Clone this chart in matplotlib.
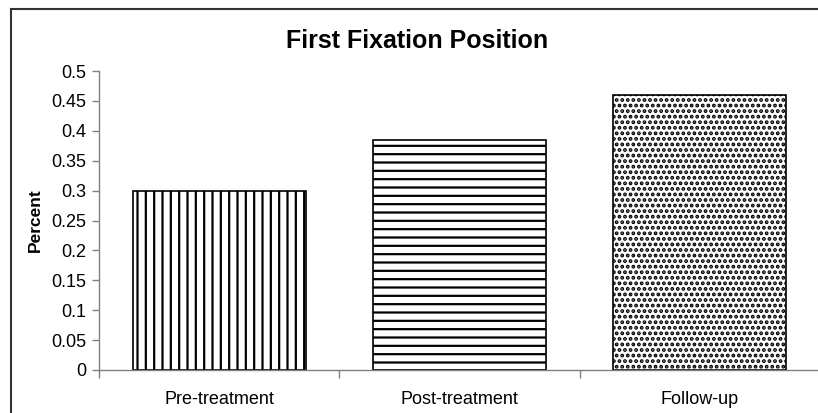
import matplotlib
matplotlib.use("Agg")
import matplotlib.pyplot as plt
from matplotlib.patches import Rectangle

plt.rcParams['font.family'] = ['Liberation Sans', 'DejaVu Sans']

categories = ["Pre-treatment", "Post-treatment", "Follow-up"]
values = [0.30, 0.385, 0.46]
hatches = ["||", "--", "..."]
hatch_widths = [1.6, 1.6, 1.9]
yticks = [0, 0.05, 0.1, 0.15, 0.2, 0.25, 0.3, 0.35, 0.4, 0.45, 0.5]
ytick_labels = ["0", "0.05", "0.1", "0.15", "0.2", "0.25", "0.3", "0.35", "0.4", "0.45", "0.5"]

W, H = 818, 413
fig = plt.figure(figsize=(W / 100, H / 100), dpi=100)
ax = fig.add_axes([99 / W, 1 - 370 / H, 721 / W, (370 - 71) / H])

x = list(range(len(categories)))
for xi, v, h, hw in zip(x, values, hatches, hatch_widths):
    with plt.rc_context({'hatch.linewidth': hw}):
        bars = ax.bar(xi, v, width=0.72, color="white", edgecolor="black",
                      linewidth=1.2, hatch=h)
        for b in bars:
            if hasattr(b, "set_hatch_linewidth"):
                b.set_hatch_linewidth(hw)

ax.set_xlim(-0.5, len(categories) - 0.5)
ax.set_ylim(0, 0.5)
ax.set_yticks(yticks)
ax.set_yticklabels(ytick_labels, fontsize=13)

# category separators as ticks, labels at the category centres
ax.set_xticks([i - 0.5 for i in range(len(categories) + 1)])
ax.set_xticklabels([])
ax.set_xticks(x, minor=True)
ax.set_xticklabels(categories, minor=True, fontsize=13)
ax.tick_params(axis="x", which="minor", length=0, pad=15)
ax.tick_params(axis="x", which="major", length=6, width=1, color="#808080", direction="out")
ax.tick_params(axis="y", length=5, width=1, color="#808080", direction="out", pad=4)

for s in ["top", "right"]:
    ax.spines[s].set_visible(False)
for s in ["left", "bottom"]:
    ax.spines[s].set_color("#808080")
    ax.spines[s].set_linewidth(1.0)

ax.set_ylabel("Percent", fontsize=12.5, fontweight="bold", labelpad=6)
fig.text(417 / W, 1 - 41 / H, "First Fixation Position", ha="center", va="center",
         fontsize=18, fontweight="bold")

# chart-area frame
fig.patches.append(Rectangle((11 / W, -0.2), 1.2, 1.2 - 9 / H, transform=fig.transFigure,
                             fill=False, edgecolor="#333333", linewidth=1.5))

fig.savefig("out.png", dpi=100)
